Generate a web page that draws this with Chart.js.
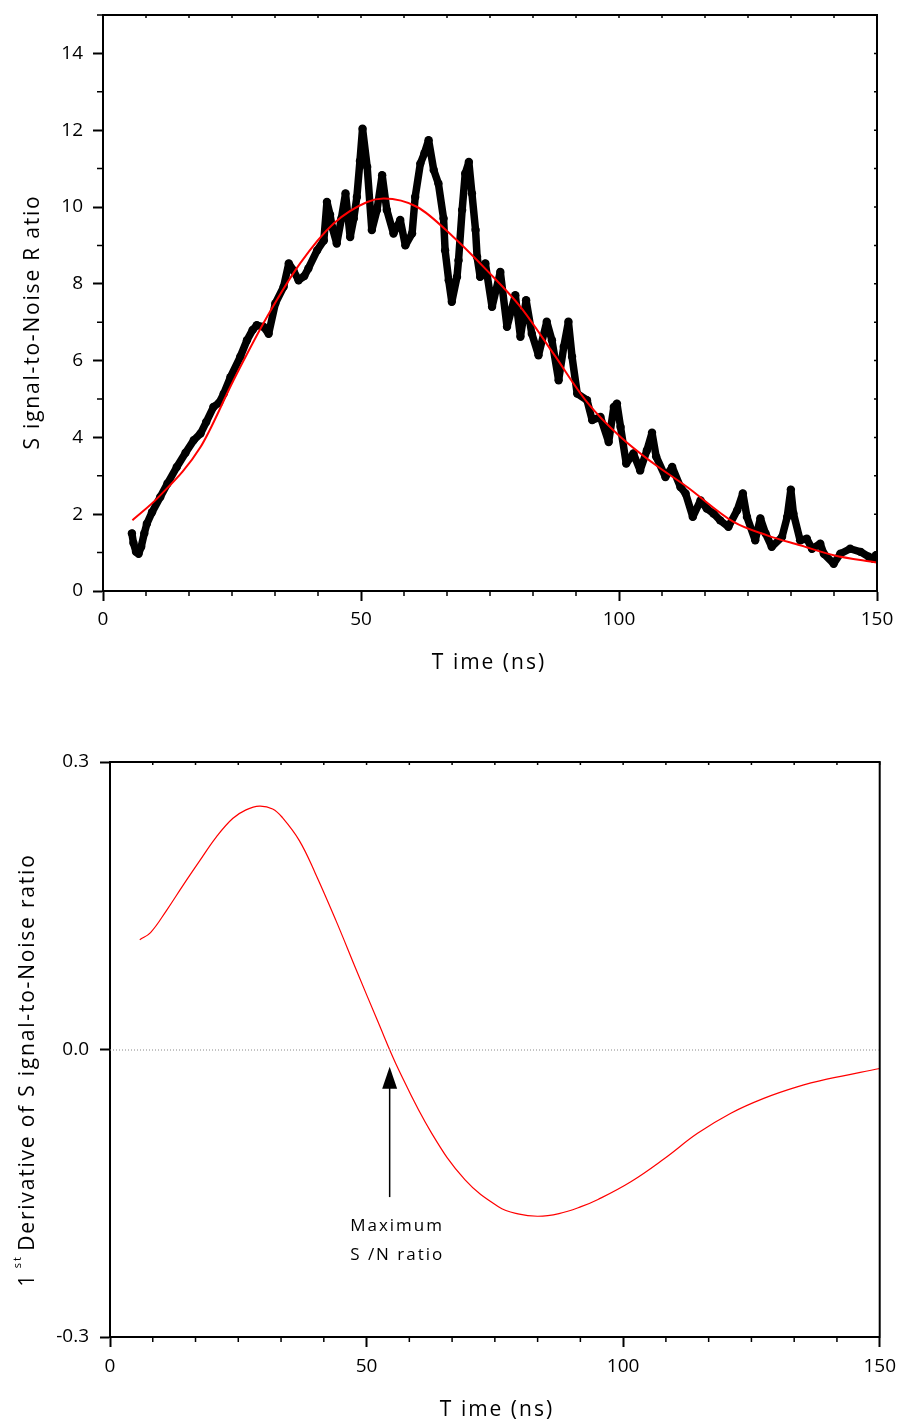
<!DOCTYPE html>
<html>
<head>
<meta charset="utf-8">
<title>Signal-to-Noise Ratio</title>
<script src="https://cdn.jsdelivr.net/npm/chart.js@4.4.0/dist/chart.umd.min.js"></script>
<style>
  body { margin: 0; background: #fff; }
  #wrap { position: relative; width: 904px; height: 1422px; }
  canvas { position: absolute; left: 0; }
  #snr-chart { top: 0; }
  #deriv-chart { top: 700px; }
</style>
</head>
<body>
<div id="wrap">
  <canvas id="snr-chart" width="904" height="700"></canvas>
  <canvas id="deriv-chart" width="904" height="722"></canvas>
</div>
<script>
// measured S/N (black dots)
const measTime = [5.6, 5.9, 6.4, 6.9, 7.4, 8.0, 8.5, 9.5, 11.1, 12.5, 14.3, 16.0, 17.6, 18.9, 20.0, 21.4, 22.5, 23.4, 24.7, 26.6,
  27.9, 29.0, 29.8, 31.1, 32.1, 33.4, 35.0, 36.0, 36.9, 37.9, 39.0, 39.8, 41.5, 42.8, 43.4, 44.0, 44.4, 45.3, 46.2, 47.0,
  47.9, 48.6, 49.2, 49.8, 50.3, 51.2, 52.1, 53.1, 54.1, 55.0, 56.3, 57.6, 58.6, 59.9, 60.5, 61.5, 62.3, 63.1, 64.1, 65.0,
  66.0, 66.3, 67.0, 67.6, 68.6, 68.9, 69.6, 70.2, 70.9, 71.5, 72.2, 72.5, 73.1, 74.1, 75.4, 77.0, 78.3, 79.9, 80.9, 82.0,
  83.1, 84.4, 86.0, 87.0, 88.3, 89.3, 90.2, 90.9, 91.9, 93.8, 94.8, 96.4, 98.0, 99.0, 99.6, 100.3, 101.4, 102.8, 104.1, 105.4,
  106.4, 107.2, 109.0, 110.3, 111.9, 112.9, 114.3, 115.8, 117.0, 118.3, 119.6, 121.2, 122.9, 124.0, 124.8, 126.4, 127.4, 128.4, 129.6, 131.6,
  132.6, 133.3, 133.8, 135.1, 136.4, 137.4, 139.0, 139.7, 141.6, 142.9, 144.8, 146.8, 148.4, 149.3, 149.8];
const measSnr = [1.50, 1.25, 1.02, 0.97, 1.15, 1.50, 1.75, 2.05, 2.45, 2.80, 3.23, 3.60, 3.93, 4.10, 4.40, 4.79, 4.90, 5.14, 5.57, 6.10,
  6.53, 6.80, 6.92, 6.88, 6.70, 7.49, 7.92, 8.53, 8.35, 8.09, 8.20, 8.40, 8.87, 9.13, 10.13, 9.80, 9.48, 9.05, 9.70, 10.35,
  9.22, 9.70, 10.26, 11.20, 12.04, 11.04, 9.40, 9.92, 10.83, 9.92, 9.31, 9.66, 9.00, 9.31, 10.26, 11.13, 11.40, 11.74, 10.96, 10.61,
  9.70, 8.87, 8.09, 7.53, 8.18, 8.61, 9.92, 10.87, 11.17, 10.35, 9.40, 8.70, 8.18, 8.53, 7.40, 8.31, 6.88, 7.70, 6.62, 7.57,
  6.70, 6.14, 7.01, 6.53, 5.49, 6.36, 7.01, 6.10, 5.14, 4.97, 4.45, 4.53, 3.88, 4.79, 4.88, 4.27, 3.32, 3.58, 3.14, 3.66,
  4.12, 3.50, 2.97, 3.23, 2.71, 2.54, 1.93, 2.36, 2.15, 2.02, 1.84, 1.67, 2.10, 2.54, 1.93, 1.32, 1.89, 1.50, 1.15, 1.41,
  1.93, 2.64, 2.02, 1.32, 1.36, 1.10, 1.23, 0.97, 0.71, 0.97, 1.10, 1.02, 0.89, 0.84, 0.93];

// fitted curve (red)
const fitTime = [5.7, 10.8, 18.9, 25.3, 31.8, 38.2, 44.7, 51.2, 54.4, 60.9, 67.9, 74.4, 80.9, 87.3, 93.8, 100.3,
  106.7, 113.2, 122.2, 128.7, 135.1, 141.6, 149.9];
const fitSnr = [1.84, 2.45, 3.75, 5.49, 7.14, 8.53, 9.57, 10.13, 10.22, 10.00, 9.22, 8.35, 7.40, 6.18, 4.92, 4.01,
  3.32, 2.71, 1.80, 1.45, 1.19, 0.93, 0.74];

// first derivative of the fit
const derivTime = [5.8, 7.9, 11.0, 14.2, 17.5, 20.7, 23.9, 26.5, 29.1, 31.7, 33.6, 36.9, 40.0, 44.0, 48.0, 52.1, 56.3,
  62.7, 69.2, 75.7, 79.5, 83.4, 87.5, 91.8, 95.1, 101.5, 108.0, 114.5, 120.9, 127.4, 133.9, 139.7, 150.0];
const derivValue = [0.1146, 0.122, 0.145, 0.171, 0.197, 0.2216, 0.241, 0.250, 0.254, 0.251, 0.242, 0.218, 0.184, 0.135, 0.083, 0.0305, -0.0216,
  -0.0875, -0.136, -0.164, -0.1715, -0.174, -0.1712, -0.164, -0.1565, -0.138, -0.114, -0.0875, -0.0667, -0.051, -0.039, -0.031, -0.0198];

const timeTicks = [0, 50, 100, 150];
const snrTicks = [0, 2, 4, 6, 8, 10, 12, 14];
const derivTicks = [-0.3, 0, 0.3];

// annotation: arrow at the zero crossing
const arrowTime = 54.5;
const arrowFrom = -0.154;
const arrowTo = -0.018;
const noteTime = 46.8;
const noteLines = ['Maximum', 'S /N ratio'];
const noteValues = [-0.1848, -0.2143];

const FONT = '"Open Sans", "DejaVu Sans", sans-serif';

const toPoints = (xs, ys) => xs.map((x, i) => ({ x, y: ys[i] }));

// box, minor ticks, axis titles and arrow
const framePlugin = {
  id: 'frame',
  afterDraw(chart, args, o) {
    const ctx = chart.ctx;
    const a = chart.chartArea;
    const xs = chart.scales.x, ys = chart.scales.y;
    ctx.save();
    ctx.strokeStyle = '#000';
    ctx.lineWidth = 2;
    ctx.strokeRect(a.left, a.top, a.right - a.left, a.bottom - a.top);

    ctx.lineWidth = 1.5;
    ctx.beginPath();
    for (let i = 0; i <= 18; i++) {
      const px = xs.getPixelForValue(i * 50 / 6);
      if (i % 6 !== 0) { ctx.moveTo(px, a.bottom); ctx.lineTo(px, a.bottom + 5); }
      ctx.moveTo(px, a.top); ctx.lineTo(px, a.top + 3);
    }
    (o.yMinor || []).forEach(v => {
      const py = ys.getPixelForValue(v);
      ctx.moveTo(a.left - 6, py); ctx.lineTo(a.left, py);
    });
    (o.yMirror || []).forEach(v => {
      const py = ys.getPixelForValue(v);
      ctx.moveTo(a.right, py); ctx.lineTo(a.right - 3, py);
    });
    ctx.stroke();

    if (o.zeroLine) {
      const py = ys.getPixelForValue(0);
      ctx.save();
      ctx.strokeStyle = '#888';
      ctx.lineWidth = 1;
      ctx.setLineDash([1, 2]);
      ctx.beginPath();
      ctx.moveTo(a.left, py + 0.5); ctx.lineTo(a.right, py + 0.5);
      ctx.stroke();
      ctx.restore();
    }

    if (o.arrow) {
      const px = xs.getPixelForValue(arrowTime);
      const y1 = ys.getPixelForValue(arrowFrom), y2 = ys.getPixelForValue(arrowTo);
      ctx.lineWidth = 1.5;
      ctx.beginPath();
      ctx.moveTo(px, y1); ctx.lineTo(px, y2 + 20);
      ctx.stroke();
      ctx.fillStyle = '#000';
      ctx.beginPath();
      ctx.moveTo(px, y2); ctx.lineTo(px - 7.5, y2 + 22); ctx.lineTo(px + 7.5, y2 + 22);
      ctx.closePath();
      ctx.fill();
      ctx.font = '17px ' + FONT;
      ctx.letterSpacing = '2px';
      ctx.textAlign = 'left';
      ctx.textBaseline = 'middle';
      noteLines.forEach((t, i) => ctx.fillText(t, xs.getPixelForValue(noteTime), ys.getPixelForValue(noteValues[i])));
    }

    ctx.fillStyle = '#000';
    ctx.font = '21px ' + FONT;
    ctx.letterSpacing = '2px';
    ctx.textAlign = 'center';
    ctx.textBaseline = 'middle';
    ctx.fillText(o.xTitle.text, o.xTitle.x, o.xTitle.y);

    ctx.translate(o.yTitle.x, o.yTitle.y);
    ctx.rotate(-Math.PI / 2);
    ctx.textAlign = 'left';
    ctx.letterSpacing = '1.8px';
    const parts = o.yTitle.parts;
    let total = 0;
    parts.forEach(p => { ctx.font = p.size + 'px ' + FONT; total += ctx.measureText(p.text).width; });
    let cx = -total / 2;
    parts.forEach(p => {
      ctx.font = p.size + 'px ' + FONT;
      ctx.fillText(p.text, cx, p.rise || 0);
      cx += ctx.measureText(p.text).width;
    });
    ctx.restore();
  }
};

function scaleOpts(extra) {
  return Object.assign({
    type: 'linear',
    grid: { display: true, drawOnChartArea: false, drawTicks: true, tickLength: 10, tickWidth: 2, tickColor: '#000' },
    border: { display: true, color: '#000', width: 2 }
  }, extra);
}

// fixed axis size, no extra label padding
function fixWidth(w) {
  return s => { s.width = w; s.paddingTop = 0; s.paddingBottom = 0; };
}

new Chart(document.getElementById('snr-chart'), {
  type: 'line',
  data: {
    datasets: [{
      label: 'Fit',
      data: toPoints(fitTime, fitSnr),
      borderColor: '#ff0000',
      borderWidth: 2,
      pointRadius: 0,
      cubicInterpolationMode: 'monotone'
    }, {
      label: 'Measured',
      data: toPoints(measTime, measSnr),
      borderColor: '#000',
      borderWidth: 7.5,
      borderJoinStyle: 'round',
      borderCapStyle: 'round',
      pointRadius: 4.2,
      pointBorderWidth: 0,
      pointBackgroundColor: '#000',
      tension: 0
    }]
  },
  options: {
    responsive: false,
    animation: false,
    layout: { padding: { top: 15, right: 27, left: 0, bottom: 0 } },
    plugins: {
      legend: { display: false },
      tooltip: { enabled: false },
      frame: {
        yMinor: [1, 3, 5, 7, 9, 11, 13, 15],
        yMirror: [1, 2, 3, 4, 5, 6, 7, 8, 9, 10, 11, 12, 13, 14],
        xTitle: { text: 'T ime (ns)', x: 489, y: 663 },
        yTitle: { x: 33, y: 322, parts: [{ text: 'S ignal-to-Noise R atio', size: 21 }] }
      }
    },
    scales: {
      x: scaleOpts({
        min: 0, max: 150,
        afterBuildTicks: s => { s.ticks = timeTicks.map(v => ({ value: v })); },
        afterFit: s => { s.height = 109; },
        ticks: { color: '#000', font: { family: FONT, size: 19 }, padding: 7, maxRotation: 0, autoSkip: false }
      }),
      y: scaleOpts({
        min: 0, max: 15,
        afterBuildTicks: s => { s.ticks = snrTicks.map(v => ({ value: v })); },
        afterFit: fixWidth(103),
        ticks: { color: '#000', font: { family: FONT, size: 19 }, padding: 10 }
      })
    }
  },
  plugins: [framePlugin]
});

new Chart(document.getElementById('deriv-chart'), {
  type: 'line',
  data: {
    datasets: [{
      label: 'Derivative',
      data: toPoints(derivTime, derivValue),
      borderColor: '#ff0000',
      borderWidth: 1.2,
      pointRadius: 0,
      tension: 0.4
    }]
  },
  options: {
    responsive: false,
    animation: false,
    layout: { padding: { top: 62, right: 21, left: 0, bottom: 0 } },
    plugins: {
      legend: { display: false },
      tooltip: { enabled: false },
      frame: {
        zeroLine: true,
        arrow: true,
        xTitle: { text: 'T ime (ns)', x: 497, y: 710 },
        yTitle: { x: 28, y: 370, parts: [
          { text: '1', size: 21 },
          { text: ' st ', size: 11, rise: -10 },
          { text: 'Derivative of S ignal-to-Noise ratio', size: 21 }
        ] }
      }
    },
    scales: {
      x: scaleOpts({
        min: 0, max: 150,
        afterBuildTicks: s => { s.ticks = timeTicks.map(v => ({ value: v })); },
        afterFit: s => { s.height = 85; },
        ticks: { color: '#000', font: { family: FONT, size: 19 }, padding: 8, maxRotation: 0, autoSkip: false }
      }),
      y: scaleOpts({
        min: -0.3, max: 0.3,
        afterBuildTicks: s => { s.ticks = derivTicks.map(v => ({ value: v })); },
        afterFit: fixWidth(110),
        ticks: { color: '#000', font: { family: FONT, size: 19 }, padding: 11, callback: v => v.toFixed(1) }
      })
    }
  },
  plugins: [framePlugin]
});
</script>
</body>
</html>
